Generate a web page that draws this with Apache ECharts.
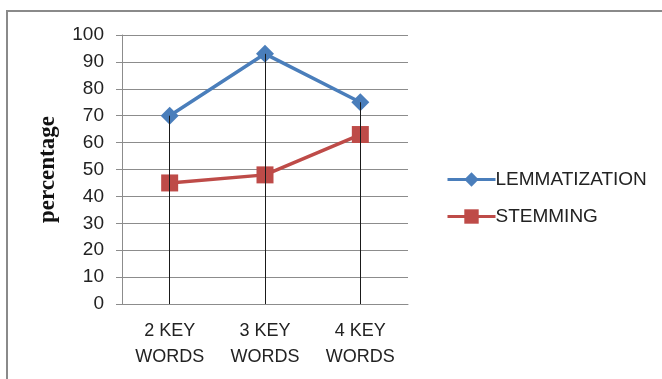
<!DOCTYPE html>
<html>
<head>
<meta charset="utf-8">
<script src="https://cdn.jsdelivr.net/npm/echarts@6/dist/echarts.min.js"></script>
<style>
  html, body { margin: 0; padding: 0; background: #fff; }
  #chart { width: 662px; height: 379px; }
</style>
</head>
<body>
<div id="chart"></div>
<script>
// Categories and series values
var categories = ['2 KEY\nWORDS', '3 KEY\nWORDS', '4 KEY\nWORDS'];
var lemmatization = [70, 93, 75];
var stemming = [45, 48, 63];
var yTicks = { min: 0, max: 100, step: 10 };

// Vertical drop lines from the highest point of each category to the axis
var dropLines = categories.map(function (c, i) {
  var top = Math.max(lemmatization[i], stemming[i]);
  return [{ coord: [i, top] }, { coord: [i, 0] }];
});

var chart = echarts.init(document.getElementById('chart'));
chart.setOption({
  animation: false,
  textStyle: { fontFamily: 'Liberation Sans' },
  graphic: [{
    type: 'rect',
    shape: { x: 7, y: 11, width: 700, height: 400 },
    style: { fill: 'none', stroke: '#8a8a8a', lineWidth: 2 },
    silent: true
  }],
  grid: { left: 122, right: 254, top: 35, bottom: 75 },
  legend: {
    orient: 'vertical',
    left: 441,
    top: 165,
    itemGap: 18,
    itemWidth: 48,
    itemHeight: 18,
    lineStyle: { width: 3 },
    textStyle: { fontSize: 19, color: '#222', padding: [0, 0, 0, -5] },
    data: ['LEMMATIZATION', 'STEMMING']
  },
  xAxis: {
    type: 'category',
    data: categories,
    boundaryGap: true,
    axisLine: { lineStyle: { color: '#8c8c8c', width: 1 } },
    axisTick: { show: false },
    axisLabel: { color: '#222', fontSize: 18, lineHeight: 26, margin: 14 },
    splitLine: { show: false }
  },
  yAxis: {
    type: 'value',
    min: yTicks.min,
    max: yTicks.max,
    interval: yTicks.step,
    name: 'percentage',
    nameLocation: 'middle',
    nameGap: 62,
    nameRotate: 90,
    nameTextStyle: { fontFamily: 'Liberation Serif', fontWeight: 'bold', fontSize: 23, color: '#111' },
    axisLine: { show: true, lineStyle: { color: '#8c8c8c', width: 1 } },
    axisTick: { show: true, length: 6, lineStyle: { color: '#8c8c8c' } },
    axisLabel: { color: '#222', fontSize: 19, margin: 18 },
    splitLine: { lineStyle: { color: '#8c8c8c', width: 1 } }
  },
  series: [
    {
      name: 'LEMMATIZATION',
      type: 'line',
      data: lemmatization,
      symbol: 'diamond',
      symbolSize: 18,
      lineStyle: { color: '#4a7ebb', width: 3.5 },
      itemStyle: { color: '#4a7ebb' },
      z: 3,
      markLine: {
        silent: true,
        symbol: 'none',
        label: { show: false },
        lineStyle: { color: '#1a1a1a', width: 1, type: 'solid' },
        data: dropLines,
        z: 4
      }
    },
    {
      name: 'STEMMING',
      type: 'line',
      data: stemming,
      symbol: 'rect',
      symbolSize: 17,
      lineStyle: { color: '#be4b48', width: 3.5 },
      itemStyle: { color: '#be4b48' },
      z: 3
    }
  ]
});
</script>
</body>
</html>
